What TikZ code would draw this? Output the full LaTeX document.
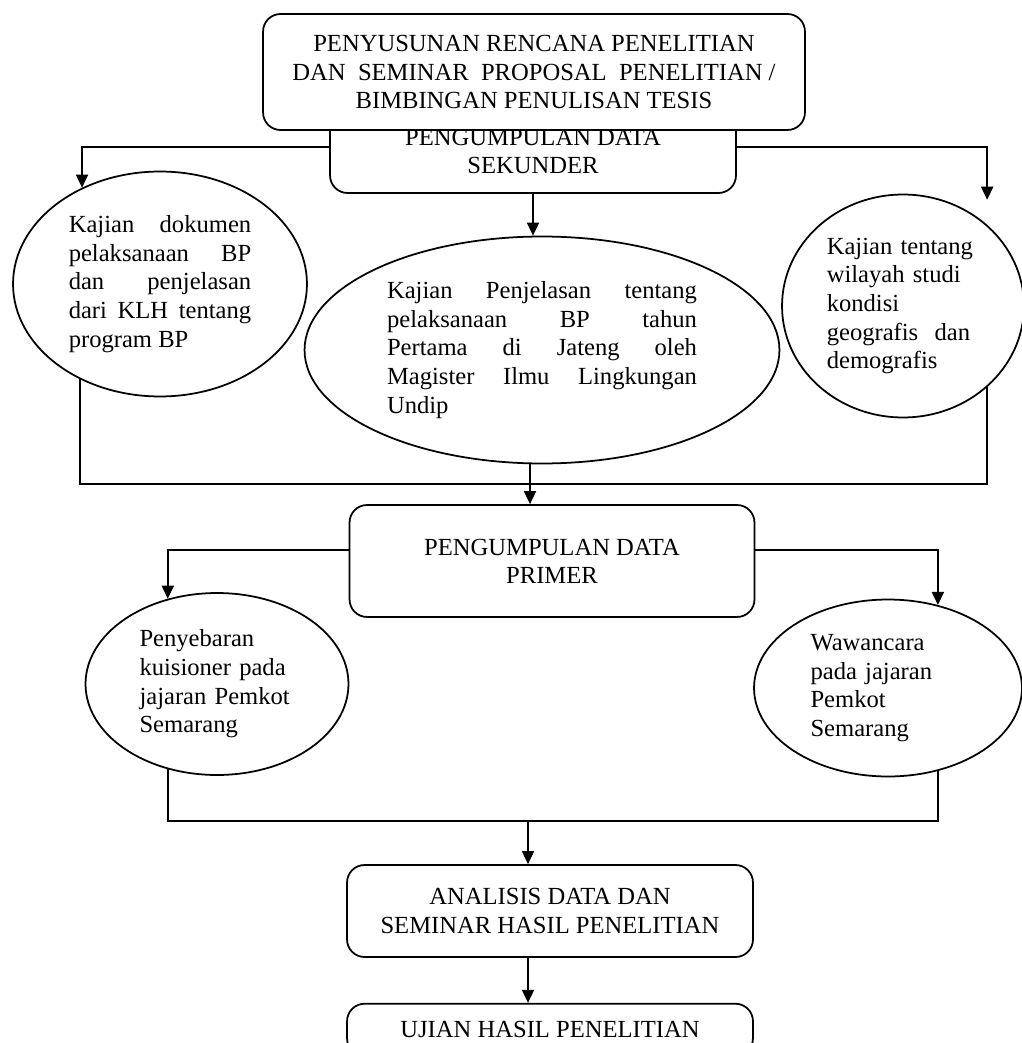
\documentclass[tikz,border=0pt]{standalone}
\usepackage{fontspec}
\setmainfont{Liberation Serif}
\usetikzlibrary{arrows.meta,calc,positioning,shapes.geometric}

\begin{document}
\begin{tikzpicture}[
            x=0.02cm, y=-0.02cm,
            node distance = 0.9cm and 1cm,
            stepbox/.style = {draw,
                rounded corners=0.35cm,
                line width=1pt,
                fill=white,
                align=center,
                inner sep=0pt,
                font=\fontsize{14}{16}\selectfont,
            },
            oval/.style = {ellipse,
                draw,
                line width=1pt,
                inner sep=0pt,
                font=\fontsize{14}{16.3}\selectfont,
                execute at begin node={\hyphenpenalty=10000},
            },
            flow/.style = {line width=1pt, -{Triangle[length=0.26cm, width=0.24cm]}},
            link/.style = {line width=1pt},
        ]
            \useasboundingbox (0,0) rectangle (1021,1043);

            % secondary data box sits under the first box
            \node[stepbox, minimum width=8.12cm, minimum height=1.84cm] (sekunder) at (533,147)
                {\rule{0pt}{14pt}PENGUMPULAN DATA\\SEKUNDER};
            \node[stepbox, minimum width=10.84cm, minimum height=2.32cm] (rencana) at (534,72)
                {PENYUSUNAN RENCANA PENELITIAN\\DAN~~SEMINAR~~PROPOSAL~~PENELITIAN /\\BIMBINGAN PENULISAN TESIS};

            \node[oval, minimum width=5.88cm, minimum height=4.5cm, text width=3.65cm, align=justify] (dokumen) at (160,284)
                {Kajian dokumen\linebreak pelaksanaan BP\linebreak dan penjelasan\linebreak dari KLH tentang\linebreak program BP};
            \node[oval, minimum width=9.5cm, minimum height=4.54cm, text width=6.2cm, align=justify] (penjelasan) at (542,350)
                {Kajian Penjelasan tentang\linebreak pelaksanaan BP tahun\linebreak Pertama di Jateng oleh\linebreak Magister Ilmu Lingkungan\linebreak Undip};
            \node[oval, minimum width=4.84cm, minimum height=4.46cm, text width=3.05cm, align=left] (wilayah) at (903,306)
                {Kajian tentang\\wilayah studi\\kondisi\\geografis~~dan\\demografis};

            \node[stepbox, minimum width=8.1cm, minimum height=2.24cm] (primer) at (552,561)
                {PENGUMPULAN DATA\\PRIMER};

            \node[oval, minimum width=5.26cm, minimum height=3.64cm, text width=3.1cm, align=left] (kuisioner) at (217,684)
                {Penyebaran\\kuisioner pada\\jajaran Pemkot\\Semarang};
            \node[oval, minimum width=5.36cm, minimum height=3.54cm, text width=3.1cm, align=left] (wawancara) at (888,688)
                {Wawancara\\pada jajaran\\Pemkot\\Semarang};

            \node[stepbox, minimum width=8.12cm, minimum height=1.84cm] (analisis) at (550,911)
                {ANALISIS DATA DAN\\SEMINAR HASIL PENELITIAN};
            \node[stepbox, minimum width=8.12cm, minimum height=1.04cm, below=of analisis] (ujian)
                {UJIAN HASIL PENELITIAN};

            % secondary data branches
            \draw[flow] (sekunder.west) -| (dokumen.129);
            \draw[flow, shorten >=0.5cm] (sekunder.east) -| (wilayah.44);
            \draw[flow] (sekunder.south) -- (sekunder.south |- penjelasan.north);

            \coordinate (join1) at (530,484);
            \draw[link] (dokumen.230) |- (join1);
            \draw[link] (wilayah.-44) |- (join1);
            \draw[flow] (penjelasan.south -| join1) -- (join1 |- primer.north);

            % primer data branches
            \draw[flow] (primer.177) -| (kuisioner.120);
            \draw[flow] (primer.3) -| (wawancara.59);

            \coordinate (join2) at (528,821);
            \draw[link] (kuisioner.240) |- (join2);
            \draw[link] (wawancara.-59) |- (join2);
            \draw[flow] (join2) -- (join2 |- analisis.north);
            \draw[flow] (analisis.south -| join2) -- (join2 |- ujian.north);
        \end{tikzpicture}
\end{document}
